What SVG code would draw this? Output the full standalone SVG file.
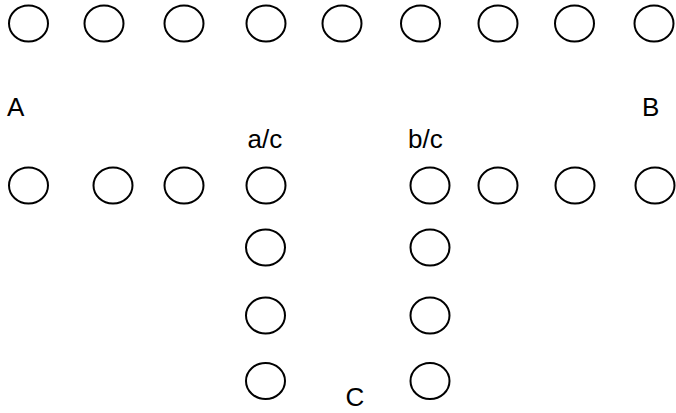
<svg xmlns="http://www.w3.org/2000/svg" width="676" height="413" viewBox="0 0 676 413">
<style>
.n{fill:none;stroke:#000;stroke-width:2}
.t{font-family:"Liberation Sans",Arial,sans-serif;font-size:26px;fill:#000}
</style>
<rect width="676" height="413" fill="#fff"/>
<g id="top-row">
<ellipse id="t1" class="n" cx="28.5" cy="23.5" rx="19.5" ry="18"/>
<ellipse id="t2" class="n" cx="104" cy="23.5" rx="19.5" ry="18"/>
<ellipse id="t3" class="n" cx="184" cy="23.5" rx="19.5" ry="18"/>
<ellipse id="t4" class="n" cx="266" cy="23.5" rx="19.5" ry="18"/>
<ellipse id="t5" class="n" cx="342" cy="23.5" rx="19.5" ry="18"/>
<ellipse id="t6" class="n" cx="420.5" cy="23.5" rx="19.5" ry="18"/>
<ellipse id="t7" class="n" cx="498" cy="23.5" rx="19.5" ry="18"/>
<ellipse id="t8" class="n" cx="574.5" cy="23.5" rx="19.5" ry="18"/>
<ellipse id="t9" class="n" cx="654" cy="23.5" rx="19.5" ry="18"/>
</g>
<g id="row-a">
<ellipse id="a1" class="n" cx="28.5" cy="185.5" rx="19.5" ry="18"/>
<ellipse id="a2" class="n" cx="113" cy="185.5" rx="19.5" ry="18"/>
<ellipse id="a3" class="n" cx="184" cy="185.5" rx="19.5" ry="18"/>
<ellipse id="a4" class="n" cx="266" cy="185.5" rx="19.5" ry="18"/>
</g>
<g id="col-a">
<ellipse id="ca1" class="n" cx="265.5" cy="247.5" rx="19.5" ry="18"/>
<ellipse id="ca2" class="n" cx="265.5" cy="315.5" rx="19.5" ry="18"/>
<ellipse id="ca3" class="n" cx="265.5" cy="381" rx="19.5" ry="18"/>
</g>
<g id="row-b">
<ellipse id="b1" class="n" cx="430" cy="185.5" rx="19.5" ry="18"/>
<ellipse id="b2" class="n" cx="498" cy="185.5" rx="19.5" ry="18"/>
<ellipse id="b3" class="n" cx="575" cy="185.5" rx="19.5" ry="18"/>
<ellipse id="b4" class="n" cx="655" cy="185.5" rx="19.5" ry="18"/>
</g>
<g id="col-b">
<ellipse id="cb1" class="n" cx="430" cy="247.5" rx="19.5" ry="18"/>
<ellipse id="cb2" class="n" cx="430" cy="315.5" rx="19.5" ry="18"/>
<ellipse id="cb3" class="n" cx="430" cy="381" rx="19.5" ry="18"/>
</g>
<g id="labels">
<text class="t" x="7" y="116">A</text>
<text class="t" x="642" y="116">B</text>
<text class="t" x="247.5" y="148">a/c</text>
<text class="t" x="408" y="148">b/c</text>
<text class="t" x="345.5" y="406">C</text>
</g>
<g id="connectors"/>
</svg>
